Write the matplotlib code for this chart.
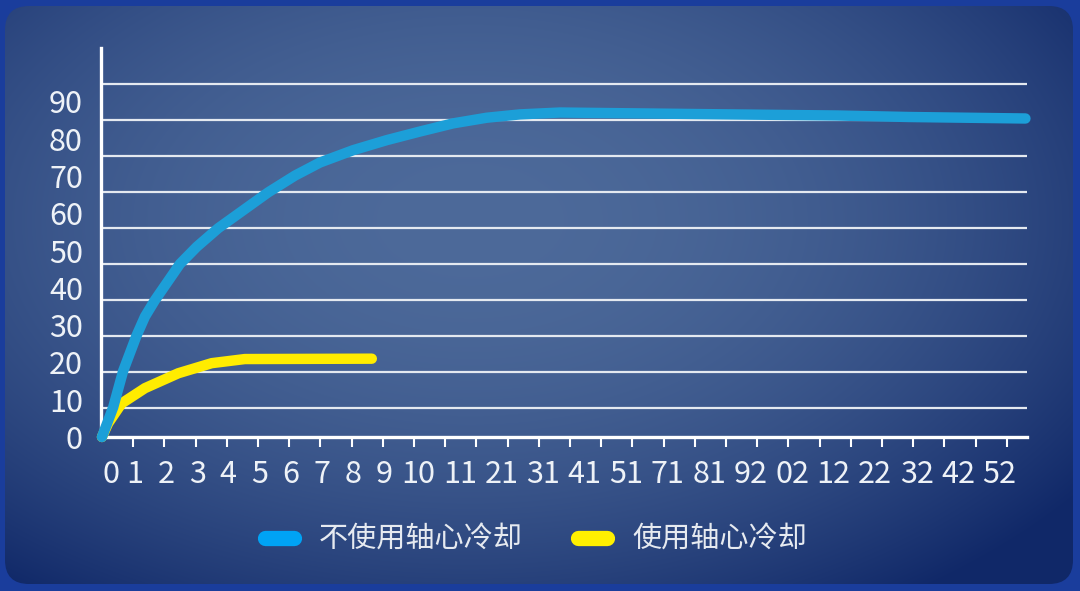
import numpy as np
import matplotlib
matplotlib.use('Agg')
import matplotlib.pyplot as plt
from matplotlib.lines import Line2D
from matplotlib.patches import FancyBboxPatch

plt.rcParams['font.family'] = ['Noto Sans CJK SC', 'DejaVu Sans']

# data (x in tick units, y in label units)
x_labels = ['0', '1', '2', '3', '4', '5', '6', '7', '8', '9', '10', '11', '21', '31',
            '41', '51', '71', '81', '92', '02', '12', '22', '32', '42', '52']
y_labels = ['0', '10', '20', '30', '40', '50', '60', '70', '80', '90']

blue_x = [0, 0.36, 0.68, 1.11, 1.38, 1.70, 2.50, 3.04, 3.73, 5.33, 6.19, 6.99, 8.05, 9.13,
          10.19, 11.26, 12.33, 13.4, 14.68, 19.0, 23.56, 25.87, 29.6]
blue_y = [0, 7.96, 17.7, 27.2, 32.3, 36.7, 46.4, 51.0, 56.0, 65.6, 70.1, 73.6, 76.9, 79.6,
          81.9, 84.1, 85.6, 86.5, 87.0, 86.6, 86.2, 85.8, 85.4]

yellow_x = [0, 0.20, 0.63, 1.38, 2.45, 3.52, 4.58, 8.65]
yellow_y = [0, 3.7, 9.0, 13.1, 17.1, 19.8, 20.9, 21.0]

series_names = ['不使用轴心冷却', '使用轴心冷却']
blue = '#1c9fd8'
yellow = '#ffec00'
txt = '#eef2f7'

fig = plt.figure(figsize=(10.8, 5.91), dpi=100)
fig.patch.set_facecolor('#1a3d9c')

# background panel with soft gradient
bg = fig.add_axes([0, 0, 1, 1])
bg.set_xlim(0, 1080)
bg.set_ylim(591, 0)
bg.axis('off')
yy, xx = np.mgrid[0:591, 0:1080]
t = np.clip(((xx - 470) / 760) ** 2 + ((yy - 220) / 460) ** 2, 0, 1)[..., None]
c_mid = np.array([0x4d, 0x6a, 0x9a]) / 255
c_edge = np.array([0x10, 0x28, 0x68]) / 255
img = c_mid * (1 - t) + c_edge * t
im = bg.imshow(img, extent=(0, 1080, 591, 0), aspect='auto')
panel = FancyBboxPatch((5, 6), 1068, 578, boxstyle='round,pad=0,rounding_size=24',
                       transform=bg.transData, facecolor='none', edgecolor='none')
bg.add_patch(panel)
im.set_clip_path(panel)

# main chart
ax = fig.add_axes([101 / 1080, (591 - 437) / 591, (1027 - 101) / 1080, (437 - 48) / 591])
ax.set_facecolor('none')
ax.set_xlim(-0.03, 29.65)
ax.set_ylim(0, 104.3)

for s in ['top', 'right']:
    ax.spines[s].set_visible(False)
for s in ['left', 'bottom']:
    ax.spines[s].set_color('white')
    ax.spines[s].set_linewidth(2.4)

# gridlines sit slightly off the labels, like the original
ax.set_yticks(7.9 + 9.64 * np.arange(10), minor=True)
ax.grid(which='minor', axis='y', color='#e4e9f0', linewidth=1.6)
ax.set_yticks(np.arange(10) * 10)
ax.set_yticklabels(y_labels)
ax.tick_params(axis='y', which='both', length=0, pad=13, labelsize=22, labelcolor=txt)

ax.set_xticks(np.arange(1, 30), minor=True)
label_pos = np.r_[0.3, np.arange(1, 10) + 0.05, 10.15 + 1.33 * np.arange(15)]
ax.set_xticks(label_pos)
ax.set_xticklabels(x_labels)
ax.tick_params(axis='x', which='minor', length=7, width=1.5, color='white', direction='out')
ax.tick_params(axis='x', which='major', length=0, pad=16, labelsize=22, labelcolor=txt)

ax.plot(blue_x, blue_y, color=blue, lw=7.5, solid_capstyle='round', solid_joinstyle='round',
        clip_on=False, zorder=4)
ax.plot(yellow_x, yellow_y, color=yellow, lw=7.5, solid_capstyle='round', solid_joinstyle='round',
        clip_on=False, zorder=3)

handles = [Line2D([], [], color='#00a3f5', lw=11, solid_capstyle='round'),
           Line2D([], [], color='#fff000', lw=11, solid_capstyle='round')]
fig.legend(handles, series_names, loc='center', bbox_to_anchor=(536 / 1080, 0.0863), ncol=2,
           frameon=False, fontsize=21, labelcolor='#e6eaf0', handlelength=1.0, handletextpad=0.85,
           columnspacing=1.9)

fig.savefig('out.png', dpi=100, facecolor=fig.get_facecolor())
